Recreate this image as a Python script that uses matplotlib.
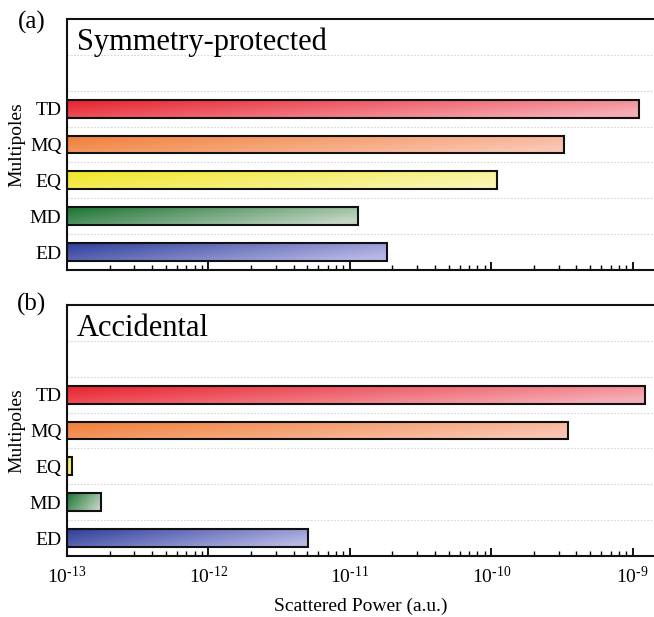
import numpy as np
import matplotlib
matplotlib.use('Agg')
import matplotlib.pyplot as plt
from matplotlib.colors import to_rgb
from matplotlib.ticker import FixedLocator, LogLocator, NullFormatter

# ---------------- data ----------------
categories = ['ED', 'MD', 'EQ', 'MQ', 'TD']
sym_values = [1.82e-11, 1.15e-11, 1.10e-10, 3.27e-10, 1.11e-9]   # (a) Symmetry-protected
acc_values = [5.09e-12, 1.74e-13, 1.09e-13, 3.51e-10, 1.22e-9]   # (b) Accidental
panel_titles = ['Symmetry-protected', 'Accidental']
panel_tags = ['(a)', '(b)']
x_ticks = [1e-13, 1e-12, 1e-11, 1e-10, 1e-9]
x_tick_labels = [r'10$^{\text{-13}}$', r'10$^{\text{-12}}$', r'10$^{\text{-11}}$',
                 r'10$^{\text{-10}}$', r'10$^{\text{-9}}$']
x_label = 'Scattered Power (a.u.)'
y_label = 'Multipoles'

start_colors = ['#2e3e9a', '#1b7332', '#f0e626', '#f07e34', '#e8222e']
end_colors = ['#b8b8e6', '#c4d6c4', '#faf6b4', '#fac6b4', '#f6aeb6']

# ---------------- style ----------------
plt.rcParams['font.family'] = ['Liberation Serif', 'DejaVu Serif']
plt.rcParams['mathtext.fontset'] = 'custom'
plt.rcParams['mathtext.rm'] = 'Liberation Serif'
plt.rcParams['mathtext.it'] = 'Liberation Serif:italic'
plt.rcParams['mathtext.bf'] = 'Liberation Serif:bold'

W, H = 654, 617
fig = plt.figure(figsize=(W / 100, H / 100), dpi=100)

left_px = 67
xmin = 1e-13
xmax = 10 ** (-13 + (W - left_px) / 141.4)
panels = [(19, 270), (305, 556)]  # top, bottom pixel rows of each axes


def gradient_bar(ax, y, value, c0, c1, height=0.5):
    bar = ax.barh([y], [value - xmin], left=xmin, height=height, facecolor='none',
                  edgecolor='#111111', linewidth=1.5, zorder=3)[0]
    # bar corners in axes fraction (through the axes' own log scale)
    tr = ax.transData + ax.transAxes.inverted()
    (ax0, ay0), (ax1, ay1) = tr.transform([[xmin, y - height / 2], [value, y + height / 2]])
    nh, nw = 24, 300
    u = np.linspace(0, 1, nw)[None, :]
    v = np.linspace(0, 1, nh)[:, None]
    t = np.clip(0.78 * u + 0.32 * v, 0, 1)
    a = np.array(to_rgb(c0))
    b = np.array(to_rgb(c1))
    img = a[None, None, :] * (1 - t[..., None]) + b[None, None, :] * t[..., None]
    im = ax.imshow(img, extent=(ax0, ax1, ay0, ay1), transform=ax.transAxes,
                   aspect='auto', origin='upper', interpolation='bilinear', zorder=2)
    im.set_clip_path(bar)


for i, (values, title, tag) in enumerate(zip([sym_values, acc_values], panel_titles, panel_tags)):
    top, bot = panels[i]
    ax = fig.add_axes([left_px / W, 1 - bot / H, (W - left_px) / W, (bot - top) / H])
    ax.set_xscale('log')
    ax.set_xlim(xmin, xmax)
    ax.set_ylim(-0.5, 6.5)
    ax.set_autoscale_on(False)

    for j, cat in enumerate(categories):
        gradient_bar(ax, j, values[j], start_colors[j], end_colors[j])

    ax.set_yticks(range(len(categories)))
    ax.set_yticklabels(categories, fontsize=14)
    ax.yaxis.set_minor_locator(FixedLocator(np.arange(0.5, 6.0, 1.0)))
    ax.grid(which='minor', axis='y', linestyle=(0, (1.5, 1.5)), color='#d6d6d6', linewidth=0.8, zorder=0)
    ax.tick_params(axis='y', which='both', length=0, pad=4)

    ax.xaxis.set_major_locator(FixedLocator(x_ticks))
    ax.xaxis.set_minor_locator(LogLocator(base=10, subs=np.arange(2, 10), numticks=20))
    ax.xaxis.set_minor_formatter(NullFormatter())
    ax.tick_params(axis='x', which='major', direction='in', length=6, width=1.3, pad=7)
    ax.tick_params(axis='x', which='minor', direction='in', length=3.5, width=1.0)
    if i == 1:
        ax.set_xticklabels(x_tick_labels, fontsize=14)
        ax.set_xlabel(x_label, fontsize=14, labelpad=8)
    else:
        ax.set_xticklabels([])

    ax.set_ylabel(y_label, fontsize=14, labelpad=3)
    for s in ['left', 'bottom', 'top']:
        ax.spines[s].set_linewidth(1.5)
        ax.spines[s].set_color('#111111')
    ax.spines['right'].set_visible(False)

    ax.text(10 / (W - left_px), (270 - 50) / 251, title, transform=ax.transAxes,
            fontsize=22, va='baseline', ha='left')

    tag_y = 22 if i == 0 else 304
    fig.text(32 / W, 1 - tag_y / H, tag, fontsize=18, ha='center', va='center')

fig.savefig('out.png', dpi=100)
